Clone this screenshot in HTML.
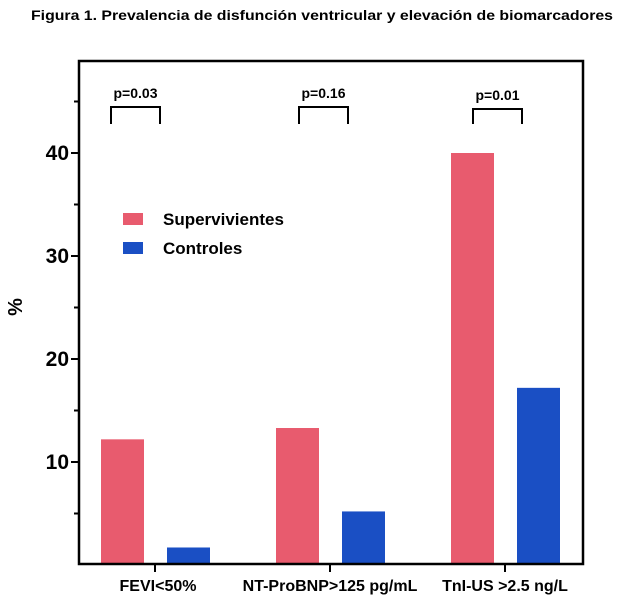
<!DOCTYPE html>
<html><head><meta charset="utf-8"><style>
body{margin:0;background:#fff;width:641px;height:600px;overflow:hidden}
svg{font-family:"Liberation Sans",sans-serif;font-weight:bold}
</style></head><body>
<svg id="chart" width="641" height="600">
<text x="322" y="20" text-anchor="middle" font-size="14" textLength="582" lengthAdjust="spacingAndGlyphs">Figura 1. Prevalencia de disfunción ventricular y elevación de biomarcadores</text>
<text transform="translate(22,307) rotate(-90)" text-anchor="middle" font-size="20">%</text>
<g id="marks"></g>
<rect x="79" y="61" width="504" height="503" fill="none" stroke="#000" stroke-width="2.5"/>
<rect x="123" y="213" width="20" height="12" fill="#e85b6e"/>
<text x="163" y="225" font-size="17">Supervivientes</text>
<rect x="123" y="242" width="20" height="12" fill="#1a4fc4"/>
<text x="163" y="254" font-size="17">Controles</text>
</svg>
<script>
const categories=["FEVI<50%","NT-ProBNP>125 pg/mL","TnI-US >2.5 ng/L"];
const supervivientes=[12.2,13.3,40];
const controles=[1.7,5.2,17.2];
const pvalues=["p=0.03","p=0.16","p=0.01"];
const yTicks=[10,20,30,40];
const yMinor=[5,15,25,35,45];
const ns="http://www.w3.org/2000/svg";
const g=document.getElementById('marks');
const y=v=>565-v*10.3;
const cx=i=>155+i*175;
const bracketOffset=[-44,-31,-32];
const bracketTop=[107,107,109];
function mk(t,a){const e=document.createElementNS(ns,t);for(const k in a)e.setAttribute(k,a[k]);g.appendChild(e);return e;}
categories.forEach((c,i)=>{
  const b1=mk('rect',{x:cx(i)-54,y:y(supervivientes[i]),width:43,height:565-y(supervivientes[i]),fill:'#e85b6e'});
  
  
  const b2=mk('rect',{x:cx(i)+12,y:y(controles[i]),width:43,height:565-y(controles[i]),fill:'#1a4fc4'});
  
  
  const tk=mk('line',{x1:cx(i),x2:cx(i),y1:564,y2:572,stroke:'#000','stroke-width':2});
  
  
  const lb=mk('text',{x:cx(i)+(i==0?3:0),y:591,'text-anchor':'middle','font-size':16});
  lb.textContent=c;
  
  
  const l=cx(i)+bracketOffset[i],r=l+49,top=bracketTop[i];
  const br=mk('path',{d:`M${l},124V${top}H${r}V124`,fill:'none',stroke:'#000','stroke-width':2});
  
  
  const pt=mk('text',{x:(l+r)/2,y:top-9,'text-anchor':'middle','font-size':14});
  pt.textContent=pvalues[i];
  
  
});
yTicks.forEach(v=>{
  const t=mk('line',{x1:71,x2:79,y1:y(v),y2:y(v),stroke:'#000','stroke-width':2});
  
  
  const tx=mk('text',{x:69,y:y(v)+7,'text-anchor':'end','font-size':21});
  tx.textContent=v;
  
  
});
yMinor.forEach(v=>{
  const t=mk('line',{x1:74,x2:79,y1:y(v),y2:y(v),stroke:'#000','stroke-width':2});
  
  
});
</script>
</body></html>
